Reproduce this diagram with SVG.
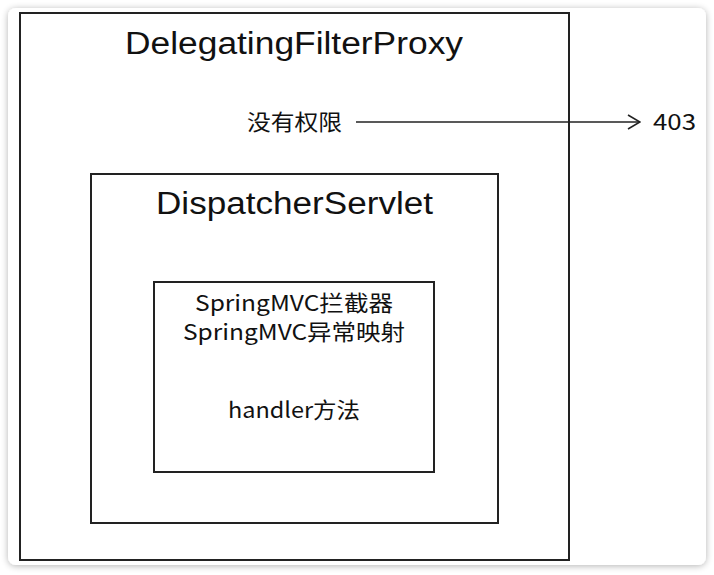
<svg xmlns="http://www.w3.org/2000/svg" width="714" height="575" viewBox="0 0 714 575">
  <defs>
    <filter id="shadow" x="-5%" y="-5%" width="110%" height="110%">
      <feGaussianBlur in="SourceAlpha" stdDeviation="3.5"/>
      <feOffset dx="0" dy="1" result="b"/>
      <feComponentTransfer><feFuncA type="linear" slope="0.3"/></feComponentTransfer>
      <feMerge><feMergeNode/><feMergeNode in="SourceGraphic"/></feMerge>
    </filter>
    <marker id="open" viewBox="0 0 14 16" refX="13" refY="8" markerWidth="14" markerHeight="16" markerUnits="userSpaceOnUse" orient="auto">
      <path d="M1,1 L13,8 L1,15" fill="none" stroke="#222" stroke-width="1.6"/>
    </marker>
    <style>
      .box { fill: none; stroke: #222; stroke-width: 2; }
      .big { font-family: "Liberation Sans", Arial, sans-serif; font-size: 31px; fill: #111; }
      .cjk { font-family: "Noto Sans CJK SC", "Noto Sans", sans-serif; font-size: 22px; fill: #111; }
      .conn { stroke: #222; stroke-width: 1.5; fill: none; }
    </style>
  </defs>
  <rect x="0" y="0" width="714" height="575" fill="#ffffff"/>
  <rect x="8" y="8" width="698" height="557" rx="8" fill="#ffffff" filter="url(#shadow)"/>

  <g id="delegatingFilterProxy">
    <rect class="box" x="20" y="13" width="549" height="547"/>
    <text class="big" x="125" y="54" textLength="338" lengthAdjust="spacingAndGlyphs">DelegatingFilterProxy</text>
    <text class="cjk" x="247" y="130" textLength="95" lengthAdjust="spacingAndGlyphs">没有权限</text>
  </g>

  <g id="dispatcherServlet">
    <rect class="box" x="91" y="174" width="407" height="349"/>
    <text class="big" x="156" y="214" textLength="277" lengthAdjust="spacingAndGlyphs">DispatcherServlet</text>
  </g>

  <g id="handlerBox">
    <rect class="box" x="154" y="282" width="280" height="190"/>
    <text class="cjk" x="195" y="311" textLength="198" lengthAdjust="spacingAndGlyphs">SpringMVC拦截器</text>
    <text class="cjk" x="183" y="340" textLength="222" lengthAdjust="spacingAndGlyphs">SpringMVC异常映射</text>
    <text class="cjk" x="228" y="418" textLength="132" lengthAdjust="spacingAndGlyphs">handler方法</text>
  </g>

  <g id="result403">
    <text class="cjk" x="653" y="130" textLength="43" lengthAdjust="spacingAndGlyphs">403</text>
  </g>

  <g id="connectors">
    <line class="conn" x1="356" y1="122" x2="640" y2="122" marker-end="url(#open)"/>
  </g>
</svg>
